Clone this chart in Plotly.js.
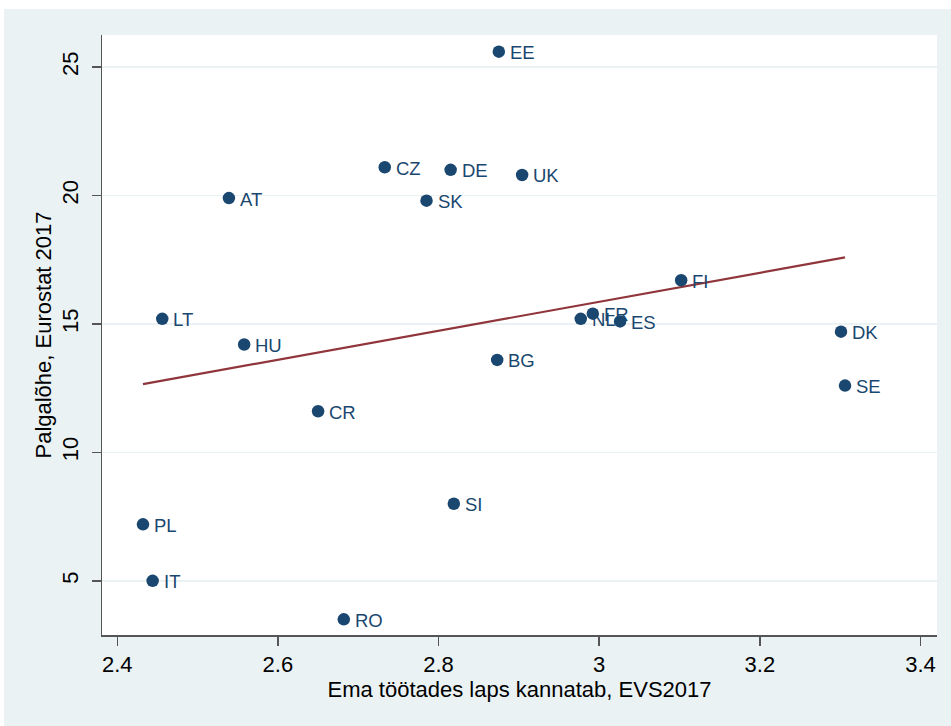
<!DOCTYPE html>
<html>
<head>
<meta charset="utf-8">
<script src="https://cdn.plot.ly/plotly-3.0.1.min.js"></script>
<style>
  html, body { margin: 0; padding: 0; background: #ffffff; }
  #chart { position: absolute; left: 4px; top: 9px; width: 947px; height: 717px; }
</style>
</head>
<body>
<div id="chart"></div>
<script>
// Country codes
const countries = ["EE", "CZ", "DE", "UK", "SK", "AT", "LT", "HU", "FI", "NL", "FR", "ES",
                   "DK", "SE", "BG", "CR", "SI", "PL", "IT", "RO"];
// "Ema töötades laps kannatab" mean score, EVS 2017
const evsScore = [2.875, 2.733, 2.815, 2.904, 2.785, 2.539, 2.456, 2.558, 3.102, 2.977, 2.992, 3.026,
                  3.301, 3.306, 2.873, 2.650, 2.819, 2.432, 2.444, 2.682];
// Gender pay gap, Eurostat 2017 (%)
const payGap = [25.6, 21.1, 21.0, 20.8, 19.8, 19.9, 15.2, 14.2, 16.7, 15.2, 15.4, 15.1,
                14.7, 12.6, 13.6, 11.6, 8.0, 7.2, 5.0, 3.5];

const xTicks = [2.4, 2.6, 2.8, 3, 3.2, 3.4];
const xTickText = ["2.4", "2.6", "2.8", "3", "3.2", "3.4"];
const yTicks = [5, 10, 15, 20, 25];
const yTickText = ["5", "10", "15", "20", "25"];

// Ordinary least squares fit of pay gap on EVS score
function linearFit(xs, ys) {
  const n = xs.length;
  const mx = xs.reduce((a, b) => a + b, 0) / n;
  const my = ys.reduce((a, b) => a + b, 0) / n;
  let sxy = 0, sxx = 0;
  for (let i = 0; i < n; i++) {
    sxy += (xs[i] - mx) * (ys[i] - my);
    sxx += (xs[i] - mx) * (xs[i] - mx);
  }
  const b = sxy / sxx;
  return { a: my - b * mx, b: b };
}
const fit = linearFit(evsScore, payGap);
const xMin = Math.min(...evsScore), xMax = Math.max(...evsScore);
const fitX = [xMin, xMax];
const fitY = fitX.map(x => fit.a + fit.b * x);

const navy = "#1a476f";
const font = "Liberation Sans, Arial, sans-serif";

const traces = [
  {
    x: fitX, y: fitY, type: "scatter", mode: "lines",
    line: { color: "#90353b", width: 2.2 },
    hoverinfo: "skip"
  },
  {
    x: evsScore, y: payGap, text: countries,
    type: "scatter", mode: "markers",
    marker: { color: navy, size: 12.5 },
    cliponaxis: false,
    hoverinfo: "x+y+text"
  }
];

// Country labels placed to the right of each marker
const labels = countries.map((c, i) => ({
  x: evsScore[i], y: payGap[i], xref: "x", yref: "y",
  text: c, showarrow: false,
  xanchor: "left", yanchor: "middle",
  xshift: 9, yshift: -1,
  font: { family: font, size: 18.5, color: navy }
}));

const layout = {
  width: 947, height: 717,
  paper_bgcolor: "#eaf2f3",
  plot_bgcolor: "#ffffff",
  showlegend: false,
  margin: { l: 98, r: 14, t: 26, b: 91 },
  font: { family: font, color: "#000000" },
  annotations: labels,
  xaxis: {
    range: [2.381, 3.4205],
    tickmode: "array", tickvals: xTicks, ticktext: xTickText,
    ticks: "outside", ticklen: 9, tickwidth: 1.5, tickcolor: "#555555",
    showline: true, linecolor: "#555555", linewidth: 1.5,
    showgrid: false, zeroline: false,
    tickfont: { family: font, size: 22, color: "#000000" },
    title: { text: "Ema töötades laps kannatab, EVS2017", font: { family: font, size: 22, color: "#000000" }, standoff: 4 }
  },
  yaxis: {
    range: [2.89, 26.25],
    tickmode: "array", tickvals: yTicks, ticktext: yTickText,
    tickangle: -90,
    ticks: "outside", ticklen: 9, tickwidth: 1.5, tickcolor: "#555555",
    ticklabelstandoff: 5,
    showline: true, linecolor: "#555555", linewidth: 1.5,
    showgrid: true, gridcolor: "#eaf2f3", gridwidth: 1.5,
    zeroline: false,
    tickfont: { family: font, size: 22, color: "#000000" },
    title: { text: "Palgalõhe, Eurostat 2017", font: { family: font, size: 22, color: "#000000" }, standoff: 0 }
  }
};

Plotly.newPlot("chart", traces, layout, { displayModeBar: false, staticPlot: true });
</script>
</body>
</html>
